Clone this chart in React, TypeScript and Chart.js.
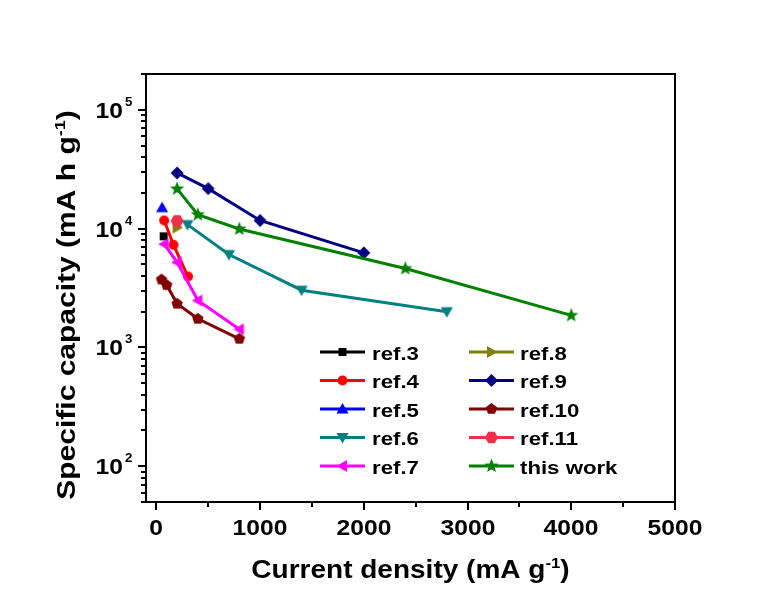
import React, { useEffect, useRef } from 'react';
import { Chart, registerables } from 'chart.js';

Chart.register(...registerables);

const FONT = '"Liberation Sans", Arial, Helvetica, sans-serif';

// ---------- series (current density in mA g-1, specific capacity in mA h g-1) ----------
const seriesNames = ['ref.3', 'ref.4', 'ref.5', 'ref.6', 'ref.7', 'ref.8', 'ref.9', 'ref.10', 'ref.11', 'this work'];
const seriesColors = ['#000000', '#ff0000', '#0000ff', '#008080', '#ff00ff', '#808000', '#000080', '#800000', '#f0304a', '#008000'];
const seriesShapes = ['square', 'circle', 'triUp', 'triDown', 'triLeft', 'triRight', 'diamond', 'pentagon', 'hexagon', 'star'];

const ref3Current = [70];
const ref3Capacity = [8600];
const ref4Current = [75, 165, 305];
const ref4Capacity = [11700, 7300, 3950];
const ref5Current = [55];
const ref5Capacity = [15000];
const ref6Current = [300, 700, 1400, 2800];
const ref6Capacity = [10800, 6050, 3030, 2000];
const ref7Current = [75, 200, 400, 800];
const ref7Capacity = [7400, 5200, 2480, 1420];
const ref8Current = [200];
const ref8Capacity = [10200];
const ref9Current = [200, 500, 1000, 2000];
const ref9Capacity = [29400, 21700, 11700, 6250];
const ref10Current = [50, 100, 200, 400, 800];
const ref10Capacity = [3720, 3340, 2330, 1740, 1180];
const ref11Current = [200];
const ref11Capacity = [11600];
const thisWorkCurrent = [200, 400, 800, 2400, 4000];
const thisWorkCapacity = [21600, 13100, 9930, 4610, 1860];

const seriesCurrents = [ref3Current, ref4Current, ref5Current, ref6Current, ref7Current, ref8Current, ref9Current, ref10Current, ref11Current, thisWorkCurrent];
const seriesCapacities = [ref3Capacity, ref4Capacity, ref5Capacity, ref6Capacity, ref7Capacity, ref8Capacity, ref9Capacity, ref10Capacity, ref11Capacity, thisWorkCapacity];

// ---------- axes ----------
const xMin = -100;
const xMax = 5000;
const yMin = 50;
const yMax = 200000;
const xMajorTicks = [0, 1000, 2000, 3000, 4000, 5000];
const xMajorLabels = ['0', '1000', '2000', '3000', '4000', '5000'];
const xMinorTicks = [500, 1500, 2500, 3500, 4500];
const yMajorTicks = [100, 1000, 10000, 100000];
const yTickBases = ['10', '10', '10', '10'];
const yTickExponents = ['2', '3', '4', '5'];
const yMinorTicks = [
  50, 60, 70, 80, 90,
  200, 300, 400, 500, 600, 700, 800, 900,
  2000, 3000, 4000, 5000, 6000, 7000, 8000, 9000,
  20000, 30000, 40000, 50000, 60000, 70000, 80000, 90000,
  200000,
];
const xTitleParts = [{ t: 'Current density (mA g' }, { t: '-1', sup: true }, { t: ')' }];
const yTitleParts = [{ t: 'Specific capacity (mA h g' }, { t: '-1', sup: true }, { t: ')' }];

// ---------- drawing helpers ----------
function poly(ctx: CanvasRenderingContext2D, cx: number, cy: number, r: number, n: number, startDeg: number) {
  for (let i = 0; i < n; i++) {
    const a = ((startDeg + (360 / n) * i) * Math.PI) / 180;
    const px = cx + r * Math.cos(a);
    const py = cy + r * Math.sin(a);
    if (i === 0) ctx.moveTo(px, py);
    else ctx.lineTo(px, py);
  }
}

function starPath(ctx: CanvasRenderingContext2D, cx: number, cy: number, ro: number, ri: number) {
  for (let i = 0; i < 10; i++) {
    const r = i % 2 === 0 ? ro : ri;
    const a = ((-90 + 36 * i) * Math.PI) / 180;
    const px = cx + r * Math.cos(a);
    const py = cy + r * Math.sin(a);
    if (i === 0) ctx.moveTo(px, py);
    else ctx.lineTo(px, py);
  }
}

function drawMarker(ctx: CanvasRenderingContext2D, shape: string, cx: number, cy: number, color: string) {
  ctx.save();
  ctx.fillStyle = color;
  ctx.beginPath();
  switch (shape) {
    case 'square':
      ctx.rect(cx - 4, cy - 4, 8, 8);
      break;
    case 'circle':
      ctx.arc(cx, cy, 5, 0, Math.PI * 2);
      break;
    case 'triUp':
      poly(ctx, cx, cy + 1, 7, 3, -90);
      break;
    case 'triDown':
      poly(ctx, cx, cy - 1, 7, 3, 90);
      break;
    case 'triLeft':
      poly(ctx, cx + 1, cy, 7, 3, 180);
      break;
    case 'triRight':
      poly(ctx, cx - 1, cy, 7, 3, 0);
      break;
    case 'diamond':
      poly(ctx, cx, cy, 6.5, 4, -90);
      break;
    case 'pentagon':
      poly(ctx, cx, cy, 6, 5, -90);
      break;
    case 'hexagon':
      poly(ctx, cx, cy, 6.5, 6, 0);
      break;
    case 'star':
      starPath(ctx, cx, cy, 7.5, 3.2);
      break;
  }
  ctx.closePath();
  ctx.fill();
  ctx.restore();
}

function markerImage(shape: string, color: string): HTMLCanvasElement {
  const c = document.createElement('canvas');
  c.width = 20;
  c.height = 20;
  const g = c.getContext('2d') as CanvasRenderingContext2D;
  drawMarker(g, shape, 10, 10, color);
  return c;
}

type Part = { t: string; sup?: boolean };

function drawRich(
  ctx: CanvasRenderingContext2D,
  parts: Part[],
  x: number,
  y: number,
  size: number,
  supSize: number,
  supRise: number,
  stretch: number,
  align: 'left' | 'center' | 'right'
) {
  ctx.save();
  ctx.translate(x, y);
  ctx.scale(stretch, 1);
  ctx.textAlign = 'left';
  ctx.textBaseline = 'alphabetic';
  ctx.fillStyle = '#000';
  let total = 0;
  const widths = parts.map((p) => {
    ctx.font = `bold ${p.sup ? supSize : size}px ${FONT}`;
    const w = ctx.measureText(p.t).width;
    total += w;
    return w;
  });
  let cx = align === 'center' ? -total / 2 : align === 'right' ? -total : 0;
  parts.forEach((p, i) => {
    ctx.font = `bold ${p.sup ? supSize : size}px ${FONT}`;
    ctx.fillText(p.t, cx, p.sup ? -supRise : 0);
    cx += widths[i];
  });
  ctx.restore();
}

const axesPlugin = {
  id: 'originAxes',
  afterDraw(chart: any) {
    const { ctx, chartArea } = chart;
    const { left, right, top, bottom } = chartArea;
    const xs = chart.scales.x;
    const ys = chart.scales.y;
    ctx.save();
    ctx.strokeStyle = '#000';
    ctx.lineWidth = 2;
    ctx.lineCap = 'square';
    ctx.strokeRect(left, top, right - left, bottom - top);

    ctx.lineCap = 'butt';
    // x ticks
    xMajorTicks.forEach((v, i) => {
      const px = Math.round(xs.getPixelForValue(v));
      ctx.beginPath();
      ctx.moveTo(px, bottom);
      ctx.lineTo(px, bottom + 8);
      ctx.stroke();
      drawRich(ctx, [{ t: xMajorLabels[i] }], px, bottom + 33, 22, 12, 0, 1.12, 'center');
    });
    xMinorTicks.forEach((v) => {
      const px = Math.round(xs.getPixelForValue(v));
      ctx.beginPath();
      ctx.moveTo(px, bottom);
      ctx.lineTo(px, bottom + 5);
      ctx.stroke();
    });
    // y ticks
    yMajorTicks.forEach((v, i) => {
      const py = Math.round(ys.getPixelForValue(v));
      ctx.beginPath();
      ctx.moveTo(left, py);
      ctx.lineTo(left - 8, py);
      ctx.stroke();
      drawRich(ctx, [{ t: yTickBases[i] }], left - 23, py + 8, 22, 12, 0, 1.12, 'right');
      drawRich(ctx, [{ t: yTickExponents[i] }], left - 21, py - 4, 12, 12, 0, 1.1, 'left');
    });
    yMinorTicks.forEach((v) => {
      const py = Math.round(ys.getPixelForValue(v));
      ctx.beginPath();
      ctx.moveTo(left, py);
      ctx.lineTo(left - 5, py);
      ctx.stroke();
    });

    // axis titles
    drawRich(ctx, xTitleParts, (left + right) / 2, bottom + 76, 25, 15, 10, 1.12, 'center');
    ctx.save();
    ctx.translate(75, 305);
    ctx.rotate(-Math.PI / 2);
    drawRich(ctx, yTitleParts, 0, 0, 25, 15, 10, 1.2, 'center');
    ctx.restore();
    ctx.restore();
  },
};

const legendPlugin = {
  id: 'insideLegend',
  afterDraw(chart: any) {
    const { ctx } = chart;
    const colX = [320, 469];
    const lineLen = 45;
    const textX = [372, 520];
    const rowY = [352, 380.5, 409, 437.5, 466];
    chart.data.datasets.forEach((ds: any, i: number) => {
      const col = i < 5 ? 0 : 1;
      const row = i % 5;
      const y = rowY[row];
      ctx.save();
      ctx.strokeStyle = ds.borderColor;
      ctx.lineWidth = 3;
      ctx.beginPath();
      ctx.moveTo(colX[col], y);
      ctx.lineTo(colX[col] + lineLen, y);
      ctx.stroke();
      drawMarker(ctx, seriesShapes[i], colX[col] + lineLen / 2, y, ds.borderColor);
      ctx.restore();
      drawRich(ctx, [{ t: ds.label }], textX[col], y + 7.5, 18.5, 12, 0, 1.2, 'left');
    });
  },
};

export default function App() {
  const canvasRef = useRef<HTMLCanvasElement | null>(null);

  useEffect(() => {
    document.body.style.margin = '0';
    const canvas = canvasRef.current;
    if (!canvas) return;
    const datasets = seriesNames.map((name, i) => ({
      label: name,
      data: seriesCurrents[i].map((x, j) => ({ x, y: seriesCapacities[i][j] })),
      borderColor: seriesColors[i],
      backgroundColor: seriesColors[i],
      borderWidth: 3,
      pointStyle: markerImage(seriesShapes[i], seriesColors[i]),
      pointRadius: 6,
      pointHoverRadius: 6,
      tension: 0,
      fill: false,
      order: 20 - i,
      clip: false as any,
    }));
    const chart = new Chart(canvas, {
      type: 'line',
      data: { datasets },
      options: {
        animation: false,
        responsive: false,
        maintainAspectRatio: false,
        events: [],
        layout: { padding: { left: 146, right: 92, top: 74, bottom: 92 } },
        scales: {
          x: { type: 'linear', min: xMin, max: xMax, display: false },
          y: { type: 'logarithmic', min: yMin, max: yMax, display: false },
        },
        plugins: {
          legend: { display: false },
          tooltip: { enabled: false },
        },
      },
      plugins: [axesPlugin, legendPlugin],
    });
    return () => chart.destroy();
  }, []);

  return (
    <div style={{ width: 767, height: 594, background: '#fff' }}>
      <canvas ref={canvasRef} width={767} height={594} style={{ display: 'block' }} />
    </div>
  );
}
